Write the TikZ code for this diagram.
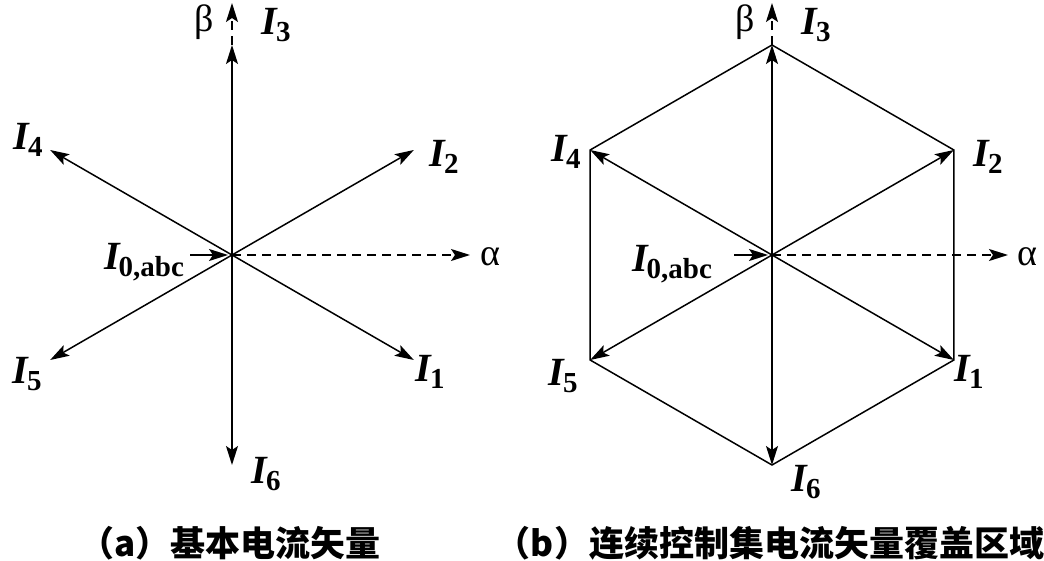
\documentclass[tikz,border=0pt]{standalone}
\usepackage{fontspec}
\setmainfont{Liberation Serif}
\newfontfamily\cjkfont{Noto Sans CJK SC}
\usetikzlibrary{arrows.meta,calc}
\tikzset{
  vec/.style={-{Stealth[length=19pt,width=12pt,inset=4pt]},line width=1.5pt},
  axisline/.style={dash pattern=on 9pt off 6pt,-{Stealth[length=19pt,width=12pt,inset=4pt]},line width=1.5pt},
  hexedge/.style={line width=1.5pt,line join=miter},
  lbl/.style={font=\fontsize{40}{42}\selectfont,inner sep=0pt},
  greek/.style={font=\fontsize{38}{40}\selectfont,inner sep=0pt},
  caption/.style={font=\cjkfont\bfseries\fontsize{35}{37}\selectfont,inner sep=0pt},
}
\newcommand{\cvec}[1]{\textbf{\textit{I}}\kern-2pt\raisebox{-0.4ex}{\fontsize{29}{30}\selectfont\bfseries #1}}

\begin{document}
\begin{tikzpicture}[x=1pt,y=1pt]
\useasboundingbox (0,0) rectangle (1044,560);

% (a) basic current vectors
\coordinate (oa) at (232,305);
\foreach \k/\ang in {1/-30,2/30,3/90,4/150,5/210,6/270}
  \coordinate (a\k) at ($(oa)+(\ang:210)$);
\coordinate (aal) at (470,305);
\coordinate (abe) at (232,557);
\foreach \k in {1,...,6}
  \draw[vec] (oa) -- (a\k);
\draw[axisline] (oa) -- (aal);
\draw[axisline] (a3) -- (abe);
\node[greek] (alphaa) at (490,303) {α};
\node[greek] (betaa) at (204,538) {β};
\node[lbl] (la3) at (276,535) {\cvec{3}};
\node[lbl] (la4) at (28,420) {\cvec{4}};
\node[lbl] (la2) at (444,403) {\cvec{2}};
\node[lbl] (la5) at (27,186) {\cvec{5}};
\node[lbl] (la1) at (430,188) {\cvec{1}};
\node[lbl] (la6) at (266,86) {\cvec{6}};
\node[lbl] (la0) at (144,298) {\cvec{0,abc}};
\draw[vec,shorten >=4pt,shorten <=6pt] (la0.east |- oa) -- (oa);
\node[caption] (capa) at (230,17) {（a）基本电流矢量};

% (b) continuous control set coverage
\coordinate (ob) at (772,305);
\foreach \k/\ang in {1/-30,2/30,3/90,4/150,5/210,6/270}
  \coordinate (b\k) at ($(ob)+(\ang:210)$);
\coordinate (bal) at (1008,305);
\coordinate (bbe) at (772,557);
\draw[hexedge] (b1) -- (b2) -- (b3) -- (b4) -- (b5) -- (b6) -- cycle;
\foreach \k in {1,...,6}
  \draw[vec] (ob) -- (b\k);
\draw[axisline] (ob) -- (bal);
\draw[axisline] (b3) -- (bbe);
\node[greek] (alphab) at (1027,303) {α};
\node[greek] (betab) at (745,538) {β};
\node[lbl] (lb3) at (816,535) {\cvec{3}};
\node[lbl] (lb4) at (566,408) {\cvec{4}};
\node[lbl] (lb2) at (988,403) {\cvec{2}};
\node[lbl] (lb5) at (563,184) {\cvec{5}};
\node[lbl] (lb1) at (969,188) {\cvec{1}};
\node[lbl] (lb6) at (806,78) {\cvec{6}};
\node[lbl] (lb0) at (672,296) {\cvec{0,abc}};
\draw[vec,shorten >=4pt,shorten <=22pt] (lb0.east |- ob) -- (ob);
\node[caption] (capb) at (770,17) {（b）连续控制集电流矢量覆盖区域};
\end{tikzpicture}
\end{document}
